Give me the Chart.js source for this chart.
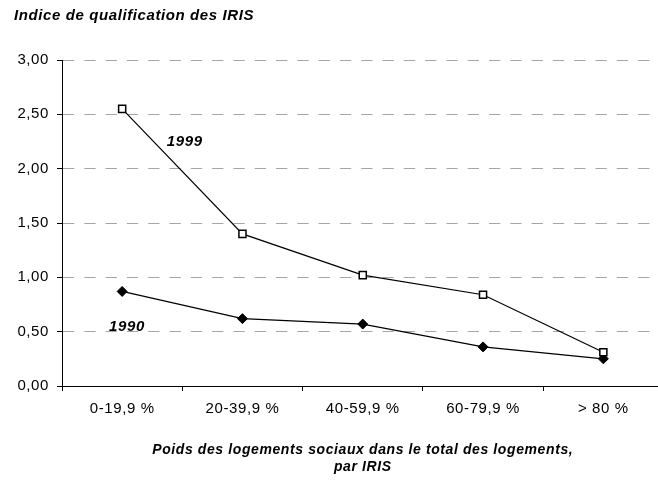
<!DOCTYPE html>
<html lang="fr">
<head>
<meta charset="utf-8">
<title>Indice de qualification des IRIS</title>
<script src="https://cdn.jsdelivr.net/npm/chart.js@4.4.1/dist/chart.umd.min.js"></script>
<style>
  html, body { margin: 0; padding: 0; background: #fff; overflow: hidden; }
  #wrap { width: 700px; height: 485px; }
  #chart { display: block; }
</style>
</head>
<body>
<!-- the plot runs a few pixels past the right edge of the window -->
<div id="wrap"><canvas id="chart" width="670" height="485"></canvas></div>
<script>
// Social housing share per IRIS (x) against the qualification index (y)
const categories = ['0-19,9 %', '20-39,9 %', '40-59,9 %', '60-79,9 %', '> 80 %'];
const values1999 = [2.55, 1.40, 1.02, 0.84, 0.31];
const values1990 = [0.87, 0.62, 0.57, 0.36, 0.25];
const yTicks = [0, 0.5, 1, 1.5, 2, 2.5, 3];
const chartTitle = 'Indice de qualification des IRIS';
const xTitle = ['Poids des logements sociaux dans le total des logements,', 'par IRIS'];

const FONT = '"Liberation Sans", Arial, Helvetica, sans-serif';
Chart.defaults.font.family = FONT;
Chart.defaults.color = '#000';

const formatValue = (v) => v.toFixed(2).replace('.', ',');

// slightly wider glyph spacing for every piece of text on the canvas
const spacing = {
  id: 'spacing',
  beforeUpdate(chart) { chart.ctx.letterSpacing = '0.6px'; },
  beforeDraw(chart) { chart.ctx.letterSpacing = '0.6px'; }
};

// year tags written next to each line
const seriesTags = {
  id: 'seriesTags',
  afterDatasetsDraw(chart) {
    const { ctx, scales: { x, y } } = chart;
    ctx.save();
    ctx.font = 'italic bold 15px ' + FONT;
    ctx.fillStyle = '#000';
    ctx.textAlign = 'center';
    ctx.textBaseline = 'middle';
    chart.data.datasets.forEach((ds) => {
      const t = ds.tag;
      ctx.fillText(ds.label, x.getPixelForValue(t.index), y.getPixelForValue(t.value));
    });
    ctx.restore();
  }
};

new Chart(document.getElementById('chart'), {
  type: 'line',
  data: {
    labels: categories,
    datasets: [
      {
        label: '1999',
        data: values1999,
        borderColor: '#000',
        borderWidth: 1.2,
        pointStyle: 'rect',
        pointRadius: 5,
        pointBorderWidth: 1.5,
        pointBackgroundColor: '#fff',
        pointBorderColor: '#000',
        tension: 0,
        tag: { index: 0.52, value: 2.25 }
      },
      {
        label: '1990',
        data: values1990,
        borderColor: '#000',
        borderWidth: 1.2,
        pointStyle: 'rectRot',
        pointRadius: 5,
        pointBorderWidth: 1,
        pointBackgroundColor: '#000',
        pointBorderColor: '#000',
        tension: 0,
        tag: { index: 0.04, value: 0.54 }
      }
    ]
  },
  options: {
    responsive: false,
    animation: false,
    events: [],
    layout: { padding: { left: 14, right: 0, top: 0, bottom: 0 } },
    plugins: {
      legend: { display: false },
      tooltip: { enabled: false },
      title: {
        display: true,
        text: chartTitle,
        align: 'start',
        color: '#000',
        font: { size: 15, weight: 'bold', style: 'italic', lineHeight: 1.2 },
        padding: { top: 6.5, bottom: 35.5 }
      }
    },
    scales: {
      x: {
        offset: true,
        grid: {
          offset: true,
          drawOnChartArea: false,
          color: '#000',
          tickColor: '#000',
          tickLength: 5
        },
        border: { color: '#000', width: 1 },
        ticks: { color: '#000', padding: 9, font: { size: 15 }, maxRotation: 0, autoSkip: false },
        title: {
          display: true,
          text: xTitle,
          color: '#000',
          font: { size: 14, weight: 'bold', style: 'italic', lineHeight: 1.25 },
          padding: { top: 0, bottom: 8.75 }
        },
        afterFit(scale) { scale.height = 99; }
      },
      y: {
        min: 0,
        max: 3,
        afterBuildTicks(scale) { scale.ticks = yTicks.map((v) => ({ value: v })); },
        grid: {
          color: (ctx) => (ctx.tick && ctx.tick.value === 0 ? 'rgba(0,0,0,0)' : '#a6a6a6'),
          lineWidth: 1,
          tickColor: '#000',
          tickLength: 5,
          tickBorderDash: []
        },
        border: { color: '#000', width: 1, dash: [11.3, 10] },
        ticks: {
          color: '#000',
          padding: 8,
          font: { size: 15 },
          callback: (v) => formatValue(v)
        },
        afterFit(scale) { scale.width = 48; }
      }
    }
  },
  plugins: [spacing, seriesTags]
});
</script>
</body>
</html>
